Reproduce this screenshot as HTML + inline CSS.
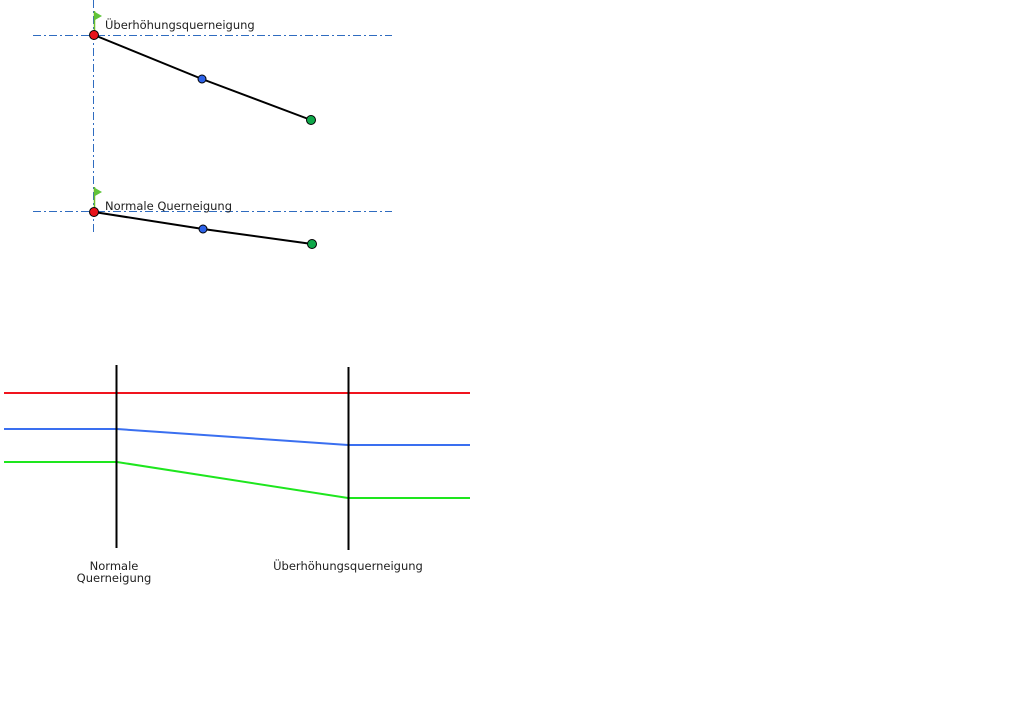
<!DOCTYPE html>
<html><head><meta charset="utf-8"><style>
html,body{margin:0;padding:0;background:#fff;width:1024px;height:720px;overflow:hidden}
svg text{font-family:"DejaVu Sans","Liberation Sans",sans-serif;font-size:11.5px;fill:#222}
</style></head><body>
<svg width="1024" height="720" viewBox="0 0 1024 720" xmlns="http://www.w3.org/2000/svg">
<g stroke="#2f6cc0" stroke-width="1" stroke-dasharray="8,3,2,3" fill="none">
<line x1="93.5" y1="0" x2="93.5" y2="233"/>
<line x1="33" y1="35.5" x2="392" y2="35.5"/>
<line x1="33" y1="211.5" x2="392" y2="211.5"/>
</g>
<g stroke="#6cbf2a" stroke-width="1.5"><line x1="94.5" y1="11" x2="94.5" y2="35"/><line x1="94.5" y1="187" x2="94.5" y2="211"/></g>
<polygon points="95,12 102,16 95,20" fill="#5fc43a"/>
<polygon points="95,188 102,192 95,196" fill="#5fc43a"/>
<g stroke="#000" stroke-width="2" fill="none">
<polyline points="94,35 202,79 311,120"/>
<polyline points="94,212 203,229 312,244"/>
</g>
<g stroke="#000" stroke-width="1">
<circle cx="94" cy="35" r="4.5" fill="#e8131b"/>
<circle cx="202" cy="79" r="4" fill="#2d62e8"/>
<circle cx="311" cy="120" r="4.5" fill="#0fa84a"/>
<circle cx="94" cy="212" r="4.5" fill="#e8131b"/>
<circle cx="203" cy="229" r="4" fill="#2d62e8"/>
<circle cx="312" cy="244" r="4.5" fill="#0fa84a"/>
</g>
<text x="105" y="29">Überhöhungsquerneigung</text>
<text x="105" y="210">Normale Querneigung</text>
<g fill="none" stroke-width="2">
<line x1="4" y1="393" x2="470" y2="393" stroke="#f0141e"/>
<polyline points="4,429 117,429 348,445 470,445" stroke="#3a6ff0"/>
<polyline points="4,462 117,462 348,498 470,498" stroke="#1ee61e"/>
</g>
<g stroke="#000" stroke-width="2">
<line x1="116.5" y1="365" x2="116.5" y2="548"/>
<line x1="348.5" y1="367" x2="348.5" y2="550"/>
</g>
<text x="114" y="570" text-anchor="middle">Normale</text>
<text x="114" y="582" text-anchor="middle">Querneigung</text>
<text x="348" y="570" text-anchor="middle">Überhöhungsquerneigung</text>
</svg>
</body></html>
